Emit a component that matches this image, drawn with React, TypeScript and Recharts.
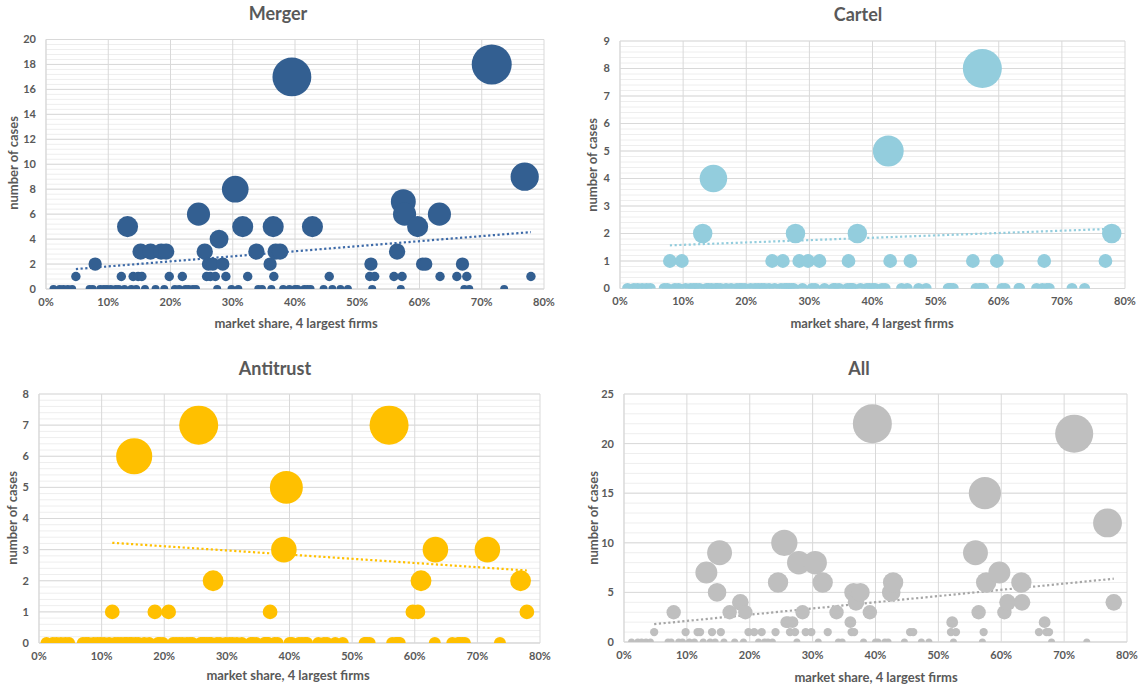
import React from "react";
import {
  ScatterChart,
  Scatter,
  XAxis,
  YAxis,
  ZAxis,
  CartesianGrid,
  ReferenceLine,
} from "recharts";

// market share of the 4 largest firms, one entry per industry (%)
const shares = [
  1.2, 2.2, 2.8, 3.5, 4.2, 4.8, 7.0, 7.5, 7.9, 8.7,
  9.3, 9.8, 10.4, 11.2, 11.7, 12.1, 12.6, 13.1, 13.7, 14.0,
  14.5, 14.8, 15.2, 15.4, 15.9, 16.8, 17.6, 18.5, 19.0, 19.3,
  19.8, 20.7, 21.4, 21.9, 22.4, 22.9, 23.6, 24.1, 24.5, 25.5,
  25.8, 26.1, 26.4, 26.8, 27.2, 27.5, 27.8, 28.4, 28.9, 29.8,
  30.4, 30.9, 31.6, 32.4, 33.8, 34.1, 34.7, 36.0, 36.2, 36.5,
  36.6, 36.9, 37.6, 38.1, 39.1, 39.5, 40.0, 40.4, 41.5, 42.0,
  42.5, 42.8, 44.6, 45.5, 46.0, 47.3, 48.5, 52.0, 52.2, 52.4,
  52.8, 55.9, 56.4, 57.0, 57.2, 57.4, 57.6, 59.7, 60.5, 61.0,
  63.2, 63.3, 66.0, 66.9, 67.2, 67.6, 68.0, 71.6, 73.6, 76.9,
  77.9,
];

// number of cases per industry
const mergerCases = [
  0, 0, 0, 0, 0, 1, 0, 0, 2, 0,
  0, 0, 0, 0, 0, 1, 0, 5, 0, 1,
  0, 1, 3, 1, 0, 3, 0, 3, 0, 3,
  1, 0, 0, 1, 0, 0, 0, 0, 6, 3,
  1, 2, 1, 2, 1, 0, 4, 2, 1, 0,
  8, 0, 5, 1, 3, 0, 0, 2, 0, 5,
  1, 3, 3, 0, 0, 17, 0, 0, 0, 0,
  0, 5, 0, 1, 0, 0, 0, 1, 2, 0,
  1, 1, 3, 0, 1, 7, 6, 5, 2, 2,
  6, 1, 1, 2, 0, 1, 0, 18, 0, 9,
  1,
];

const cartelCases = [
  0, 0, 0, 0, 0, 0, 0, 0, 1, 0,
  0, 1, 0, 0, 0, 0, 0, 2, 0, 0,
  0, 4, 0, 0, 0, 0, 0, 0, 0, 0,
  0, 0, 0, 0, 0, 0, 0, 1, 0, 0,
  1, 0, 0, 0, 0, 0, 2, 1, 0, 1,
  0, 0, 1, 0, 0, 0, 0, 0, 1, 0,
  0, 0, 2, 0, 0, 0, 0, 0, 0, 0,
  5, 1, 0, 0, 1, 0, 0, 0, 0, 0,
  0, 1, 0, 0, 0, 8, 0, 1, 0, 0,
  0, 0, 0, 0, 1, 0, 0, 0, 0, 1,
  2,
];

const antitrustCases = [
  0, 0, 0, 0, 0, 0, 0, 0, 0, 0,
  0, 0, 0, 0, 1, 0, 0, 0, 0, 0,
  0, 0, 6, 0, 0, 0, 0, 1, 0, 0,
  0, 1, 0, 0, 0, 0, 0, 0, 0, 7,
  0, 0, 0, 0, 0, 0, 2, 0, 0, 0,
  0, 0, 0, 0, 0, 0, 0, 0, 0, 0,
  0, 1, 0, 0, 3, 5, 0, 0, 0, 0,
  0, 0, 0, 0, 0, 0, 0, 0, 0, 0,
  0, 7, 0, 0, 0, 0, 0, 1, 1, 2,
  0, 3, 0, 0, 0, 0, 0, 3, 0, 2,
  1,
];

const allCases = [
  0, 0, 0, 0, 0, 1, 0, 0, 3, 0,
  0, 1, 0, 0, 1, 1, 0, 7, 0, 1,
  0, 5, 9, 1, 0, 3, 0, 4, 0, 3,
  1, 1, 0, 1, 0, 0, 0, 1, 6, 10,
  2, 2, 1, 2, 1, 0, 8, 3, 1, 1,
  8, 0, 6, 1, 3, 0, 0, 2, 1, 5,
  1, 4, 5, 0, 3, 22, 0, 0, 0, 0,
  5, 6, 0, 1, 1, 0, 0, 1, 2, 0,
  1, 9, 3, 0, 1, 15, 6, 7, 3, 4,
  6, 4, 1, 2, 1, 1, 0, 21, 0, 12,
  4,
];

const shareTicks = [0, 10, 20, 30, 40, 50, 60, 70, 80];
const mergerTicks = [0, 2, 4, 6, 8, 10, 12, 14, 16, 18, 20];
const cartelTicks = [0, 1, 2, 3, 4, 5, 6, 7, 8, 9];
const antitrustTicks = [0, 1, 2, 3, 4, 5, 6, 7, 8];
const allTicks = [0, 5, 10, 15, 20, 25];

// linear trend lines: [share, cases] at start and end
const mergerTrend = [[4.8, 1.6], [77.9, 4.56]];
const cartelTrend = [[7.9, 1.57], [77.9, 2.17]];
const antitrustTrend = [[11.7, 3.22], [77.9, 2.33]];
const allTrend = [[4.8, 1.8], [77.9, 6.38]];

const FONT = "Lato, 'Open Sans', sans-serif";
const TEXT = "#595959";
const W = 570;
const H = 342;

const tickStyle = { fill: TEXT, fontSize: 11, fontWeight: 700, fontFamily: FONT };

const minorValues = (max: number, step: number) => {
  const out: number[] = [];
  for (let v = 0; v <= max + 1e-9; v += step) out.push(+v.toFixed(2));
  return out;
};

type Pos = [number, number];

type PanelProps = {
  title: string;
  counts: number[];
  color: string;
  trendColor: string;
  ticks: number[];
  minorStep: number;
  trend: number[][];
  maxRadius: number;
  zeroRadius: number;
  x: number;
  y: number;
  margin: { top: number; right: number; bottom: number; left: number };
  titlePos: Pos;
  xLabelPos: Pos;
  yLabelPos: Pos;
};

const centered = (p: Pos, extra = "") => ({
  position: "absolute" as const,
  left: p[0],
  top: p[1],
  transform: `translate(-50%, -50%)${extra}`,
  whiteSpace: "nowrap" as const,
  fontFamily: FONT,
  fontWeight: 700,
  color: TEXT,
  lineHeight: 1,
});

const Panel = (props: PanelProps) => {
  const { counts, ticks, trend, maxRadius, zeroRadius } = props;
  const rows = shares.map((share, i) => ({ share, cases: counts[i] }));
  const bubbles = rows.filter((r) => r.cases > 0);
  const zeros = rows.filter((r) => r.cases === 0);
  const yMax = ticks[ticks.length - 1];
  const maxCases = Math.max(...counts);
  const zeroArea = Math.PI * zeroRadius * zeroRadius;

  return (
    <div style={{ position: "absolute", left: props.x, top: props.y, width: W, height: H }}>
      <ScatterChart width={W} height={H} margin={props.margin}>
        <CartesianGrid
          horizontalValues={minorValues(yMax, props.minorStep)}
          vertical={false}
          stroke="#eeeeee"
        />
        <CartesianGrid horizontalValues={ticks} verticalValues={shareTicks} stroke="#d9d9d9" />
        <XAxis
          type="number"
          dataKey="share"
          domain={[0, 80]}
          ticks={shareTicks}
          interval={0}
          tickFormatter={(v) => `${v}%`}
          allowDataOverflow
          tickLine={false}
          axisLine={{ stroke: "#d9d9d9" }}
          tick={tickStyle}
          tickMargin={3}
          height={30}
        />
        <YAxis
          type="number"
          dataKey="cases"
          domain={[0, yMax]}
          ticks={ticks}
          interval={0}
          allowDataOverflow
          tickLine={false}
          axisLine={{ stroke: "#d9d9d9" }}
          tick={tickStyle}
          tickMargin={4}
          width={34}
        />
        <ZAxis
          zAxisId="bubble"
          type="number"
          dataKey="cases"
          domain={[0, maxCases]}
          range={[0, Math.PI * maxRadius * maxRadius]}
        />
        <ZAxis zAxisId="zero" type="number" dataKey="cases" domain={[0, 1]} range={[zeroArea, zeroArea]} />
        <ReferenceLine
          segment={[
            { x: trend[0][0], y: trend[0][1] },
            { x: trend[1][0], y: trend[1][1] },
          ]}
          stroke={props.trendColor}
          strokeWidth={2.2}
          strokeDasharray="2.2 2.5"
        />
        <Scatter data={zeros} zAxisId="zero" fill={props.color} isAnimationActive={false} />
        <Scatter data={bubbles} zAxisId="bubble" fill={props.color} isAnimationActive={false} />
      </ScatterChart>
      <div style={{ ...centered(props.titlePos), fontSize: 18 }}>{props.title}</div>
      <div style={{ ...centered(props.xLabelPos), fontSize: 13 }}>market share, 4 largest firms</div>
      <div style={{ ...centered(props.yLabelPos, " rotate(-90deg)"), fontSize: 13 }}>number of cases</div>
    </div>
  );
};

export default function App() {
  return (
    <div style={{ position: "absolute", left: 0, top: 0, width: 1140, height: 684, background: "#fff" }}>
      <Panel
        title="Merger"
        counts={mergerCases}
        color="#335f91"
        trendColor="#3d6aa8"
        ticks={mergerTicks}
        minorStep={0.4}
        trend={mergerTrend}
        maxRadius={20}
        zeroRadius={4}
        x={0}
        y={0}
        margin={{ top: 39.5, right: 26, bottom: 23, left: 12 }}
        titlePos={[278, 13]}
        xLabelPos={[296, 323]}
        yLabelPos={[12.5, 163]}
      />
      <Panel
        title="Cartel"
        counts={cartelCases}
        color="#93cddd"
        trendColor="#93cddd"
        ticks={cartelTicks}
        minorStep={0.2}
        trend={cartelTrend}
        maxRadius={19.5}
        zeroRadius={5.5}
        x={570}
        y={0}
        margin={{ top: 41, right: 15, bottom: 23.5, left: 16 }}
        titlePos={[288, 14]}
        xLabelPos={[302, 323]}
        yLabelPos={[22, 165]}
      />
      <Panel
        title="Antitrust"
        counts={antitrustCases}
        color="#ffc000"
        trendColor="#ffc000"
        ticks={antitrustTicks}
        minorStep={0.2}
        trend={antitrustTrend}
        maxRadius={19.5}
        zeroRadius={6}
        x={0}
        y={342}
        margin={{ top: 52, right: 30, bottom: 11, left: 5 }}
        titlePos={[275, 26]}
        xLabelPos={[288, 333]}
        yLabelPos={[12, 176]}
      />
      <Panel
        title="All"
        counts={allCases}
        color="#bfbfbf"
        trendColor="#a6a6a6"
        ticks={allTicks}
        minorStep={1}
        trend={allTrend}
        maxRadius={19.5}
        zeroRadius={3.5}
        x={570}
        y={342}
        margin={{ top: 52, right: 13, bottom: 12, left: 20 }}
        titlePos={[289, 26]}
        xLabelPos={[306, 335]}
        yLabelPos={[23, 176]}
      />
    </div>
  );
}
